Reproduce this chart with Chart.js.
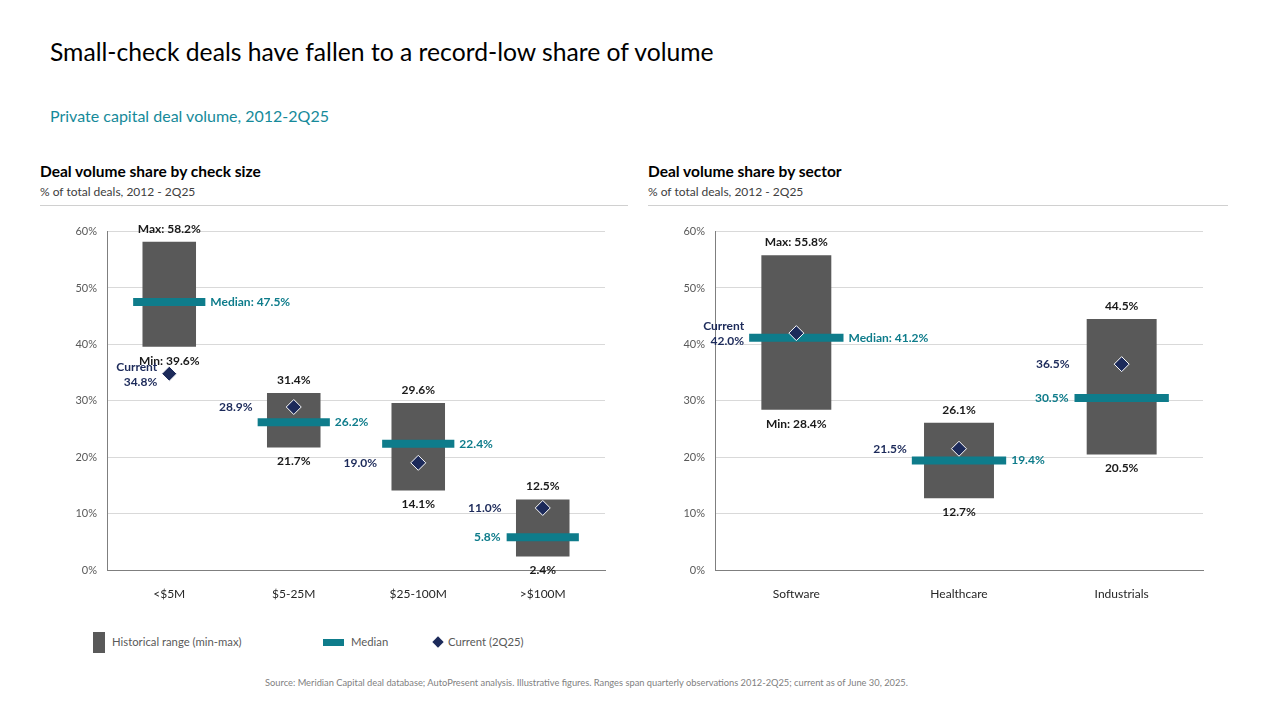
<!DOCTYPE html>
<html>
<head>
<meta charset="utf-8">
<script src="https://cdn.jsdelivr.net/npm/chart.js@4.4.1/dist/chart.umd.min.js"></script>
<style>
  body { margin: 0; width: 1280px; height: 720px; background: #fff; font-family: Lato, "Noto Sans", sans-serif; position: relative; overflow: hidden; }
  .t { position: absolute; white-space: nowrap; }
  canvas { position: absolute; }
  .rule { position: absolute; height: 1px; background: #d0d0d0; }
</style>
</head>
<body>
<div class="t" style="left:50px; top:37px; font-size:24.7px; line-height:30px; color:#000;">Small-check deals have fallen to a record-low share of volume</div>
<div class="t" style="left:50px; top:106px; font-size:16px; line-height:20px; color:#168a9a;">Private capital deal volume, 2012-2Q25</div>

<div class="t" style="left:40px; top:161px; font-size:15.5px; line-height:20px; font-weight:bold; color:#000;">Deal volume share by check size</div>
<div class="t" style="left:40px; top:185px; font-size:12px; line-height:14px; color:#404040;">% of total deals, 2012 - 2Q25</div>
<div class="rule" style="left:40px; top:205px; width:588px;"></div>

<div class="t" style="left:648px; top:161px; font-size:15.5px; line-height:20px; font-weight:bold; color:#000;">Deal volume share by sector</div>
<div class="t" style="left:648px; top:185px; font-size:12px; line-height:14px; color:#404040;">% of total deals, 2012 - 2Q25</div>
<div class="rule" style="left:648px; top:205px; width:580px;"></div>

<canvas id="graficoTamanho" width="590" height="385" style="left:40px; top:215px;"></canvas>
<canvas id="graficoSetor" width="580" height="385" style="left:648px; top:215px;"></canvas>

<div style="position:absolute; left:93px; top:632px; width:12px; height:21px; background:#595959;"></div>
<div class="t" style="left:112px; top:635px; font-size:11.3px; line-height:14px; color:#595959;">Historical range (min-max)</div>
<div style="position:absolute; left:323px; top:639px; width:21px; height:7px; background:#0e7c8b;"></div>
<div class="t" style="left:351px; top:635px; font-size:11.3px; line-height:14px; color:#595959;">Median</div>
<div style="position:absolute; left:434px; top:638px; width:8px; height:8px; background:#1c2a5a; transform:rotate(45deg);"></div>
<div class="t" style="left:448px; top:635px; font-size:11.3px; line-height:14px; color:#595959;">Current (2Q25)</div>

<div class="t" style="left:265px; top:677px; font-size:9.3px; line-height:12px; color:#7f7f7f;">Source: Meridian Capital deal database; AutoPresent analysis. Illustrative figures. Ranges span quarterly observations 2012-2Q25; current as of June 30, 2025.</div>

<script>
const tamanhoCats = ['<$5M', '$5-25M', '$25-100M', '>$100M'];
const tamanhoMin = [39.6, 21.7, 14.1, 2.4];
const tamanhoMax = [58.2, 31.4, 29.6, 12.5];
const tamanhoMediana = [47.5, 26.2, 22.4, 5.8];
const tamanhoAtual = [34.8, 28.9, 19.0, 11.0];

const setorCats = ['Software', 'Healthcare', 'Industrials'];
const setorMin = [28.4, 12.7, 20.5];
const setorMax = [55.8, 26.1, 44.5];
const setorMediana = [41.2, 19.4, 30.5];
const setorAtual = [42.0, 21.5, 36.5];

const CINZA = '#595959';
const TEAL = '#0e7c8b';
const NAVY = '#1c2a5a';
const FONTE = 'Lato';

function pct(v) {
    return v.toFixed(1) + '%';
}

// rotulos de max/min, mediana e atual
const rotulos = {
    id: 'rotulos',
    afterDatasetsDraw(chart, args, opts) {
        const ctx = chart.ctx;
        const ds = chart.data.datasets;
        const barras = chart.getDatasetMeta(0).data;
        const medianas = chart.getDatasetMeta(1).data;
        const atuais = chart.getDatasetMeta(2).data;
        ctx.save();
        ctx.font = 'bold 12px ' + FONTE;
        ctx.textBaseline = 'middle';
        barras.forEach((barra, i) => {
            const lo = ds[0].data[i][0];
            const hi = ds[0].data[i][1];
            ctx.fillStyle = '#1a1a1a';
            ctx.textAlign = 'center';
            ctx.fillText((i === 0 ? 'Max: ' : '') + pct(hi), barra.x, barra.y - 13);
            ctx.fillText((i === 0 ? 'Min: ' : '') + pct(lo), barra.x, barra.base + 14);

            const m = medianas[i];
            const meio = m.options.radius;
            const textoMed = (i === 0 ? 'Median: ' : '') + pct(ds[1].data[i]);
            ctx.fillStyle = TEAL;
            if (opts.ladoMediana[i] === 'left') {
                ctx.textAlign = 'right';
                ctx.fillText(textoMed, m.x - meio - 6, m.y);
            } else {
                ctx.textAlign = 'left';
                ctx.fillText(textoMed, m.x + meio + 5, m.y);
            }

            const c = atuais[i];
            const cv = ds[2].data[i];
            const dentro = cv >= lo && cv <= hi;
            const cx = dentro ? c.x - meio - 5 : c.x - 12;
            ctx.fillStyle = NAVY;
            ctx.textAlign = 'right';
            if (i === 0) {
                ctx.fillText('Current', cx, c.y - 7);
                ctx.fillText(pct(cv), cx, c.y + 8);
            } else {
                ctx.fillText(pct(cv), cx, c.y);
            }
        });
        ctx.restore();
    }
};

function criaGrafico(id, cats, mins, maxs, medianas, atuais, ladoMediana) {
    const el = document.getElementById(id);
    return new Chart(el, {
        type: 'bar',
        data: {
            labels: cats,
            datasets: [{
                label: 'Historical range (min-max)',
                data: mins.map((v, i) => [v, maxs[i]]),
                backgroundColor: CINZA,
                borderWidth: 0,
                categoryPercentage: 1,
                barPercentage: 0.43,
                order: 3
            }, {
                type: 'line',
                label: 'Median',
                data: medianas,
                showLine: false,
                pointStyle: 'line',
                pointRadius: (c) => c.chart.scales.x.width / cats.length * 0.29,
                pointBorderWidth: 8,
                pointBorderColor: TEAL,
                pointBackgroundColor: TEAL,
                order: 2
            }, {
                type: 'line',
                label: 'Current (2Q25)',
                data: atuais,
                showLine: false,
                pointStyle: 'rectRot',
                pointRadius: 7.5,
                pointBorderWidth: 1,
                pointBorderColor: '#ffffff',
                pointBackgroundColor: NAVY,
                order: 1
            }]
        },
        options: {
            responsive: false,
            animation: false,
            events: [],
            layout: { padding: { top: 15, right: 25, left: 0, bottom: 0 } },
            plugins: {
                legend: { display: false },
                tooltip: { enabled: false },
                rotulos: { ladoMediana: ladoMediana }
            },
            scales: {
                x: {
                    grid: { display: false },
                    border: { display: true, color: '#7f7f7f' },
                    ticks: { color: '#262626', font: { family: FONTE, size: 12 }, padding: 9 },
                    afterFit(s) { s.height = 30; }
                },
                y: {
                    min: 0,
                    max: 60,
                    ticks: {
                        stepSize: 10,
                        callback: (v) => v + '%',
                        color: CINZA,
                        font: { family: FONTE, size: 11 },
                        padding: 10
                    },
                    grid: { color: '#d9d9d9', drawTicks: false },
                    border: { display: true, color: '#7f7f7f' },
                    afterFit(s) { s.width = 67; }
                }
            }
        },
        plugins: [rotulos]
    });
}

const graficoTamanho = criaGrafico('graficoTamanho', tamanhoCats, tamanhoMin, tamanhoMax,
    tamanhoMediana, tamanhoAtual, ['right', 'right', 'right', 'left']);
const graficoSetor = criaGrafico('graficoSetor', setorCats, setorMin, setorMax,
    setorMediana, setorAtual, ['right', 'right', 'left']);
</script>
</body>
</html>
